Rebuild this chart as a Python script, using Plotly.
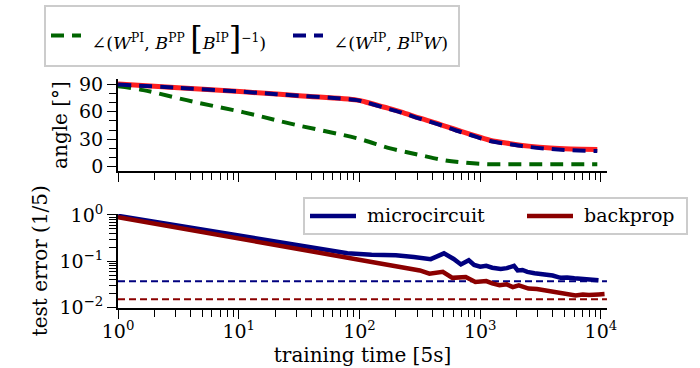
import plotly.graph_objects as go

# ---------------- top panel: angles ----------------
angle_time_ip = [1, 3.16, 11, 31.6, 95.5, 112, 158, 219, 316, 468, 631, 832, 1202, 1778, 2512, 3802, 5623, 9333]
angle_ip_dash = [90, 86.3, 81.9, 77.6, 72.8, 70.5, 64.8, 59.4, 52.5, 45.5, 39.5, 34.5, 27.9, 24.3, 21.5, 19.2, 17.8, 17.0]
angle_ip_red = [90.5, 86.5, 82.0, 77.6, 72.8, 70.8, 65.3, 60.0, 53.0, 46.0, 40.3, 35.3, 28.8, 25.0, 22.3, 20.2, 19.2, 18.7]

angle_time_pi = [1, 1.62, 4.21, 11, 28.5, 95.5, 180, 316, 501, 686, 1072, 1995, 3981, 9333]
angle_pi = [88, 83.8, 71, 59.4, 46.2, 30.9, 19.9, 12.6, 6.9, 4.6, 2.6, 2.4, 2.4, 2.4]

# ---------------- bottom panel: test error ----------------
mc_time = [1, 3.16, 10, 31.6, 79.4, 126, 200, 282, 389, 501, 603, 692, 804, 891, 1000, 1122, 1259,
           1479, 1660, 1905, 2042, 2239, 2455, 2818, 3162, 3548, 3981, 4624, 5248, 6026, 6761, 7586, 8511, 9550]
mc_err = [0.955, 0.589, 0.355, 0.219, 0.148, 0.138, 0.135, 0.123, 0.111, 0.148, 0.112, 0.0851, 0.105, 0.0832,
          0.0759, 0.0794, 0.0724, 0.0676, 0.0708, 0.0794, 0.0631, 0.0646, 0.0589, 0.0550, 0.0537, 0.0501,
          0.0490, 0.0437, 0.0447, 0.0427, 0.0417, 0.0427, 0.0407, 0.0389]

bp_time = [1, 3.16, 10, 31.6, 95.5, 200, 316, 380, 490, 589, 759, 912, 1122, 1259, 1445, 1660, 1862, 2089,
           2512, 2951, 3467, 3981, 4467, 5248, 6166, 7079, 7943, 9550, 10715]
bp_err = [0.891, 0.525, 0.309, 0.178, 0.105, 0.0759, 0.0631, 0.0537, 0.0589, 0.0437, 0.0457, 0.0355, 0.0372,
          0.0331, 0.0302, 0.0316, 0.0275, 0.0302, 0.0257, 0.0251, 0.0234, 0.0219, 0.0200, 0.0195, 0.0182,
          0.0191, 0.0186, 0.0191, 0.0195]

mc_floor = 0.0367
bp_floor = 0.0151

x_major = [1, 10, 100, 1000, 10000]
x_major_text = ["10<sup>0</sup>", "10<sup>1</sup>", "10<sup>2</sup>", "10<sup>3</sup>", "10<sup>4</sup>"]
angle_ticks = [0, 30, 60, 90]
angle_minor = [10, 20, 40, 50, 70, 80]
err_major = [0.01, 0.1, 1]
err_major_text = ["10<sup>\u22122</sup>", "10<sup>\u22121</sup>", "10<sup>0</sup>"]

NAVY = "#00007f"
GREEN = "#006400"
RED = "#ff2020"
DRED = "#8b0000"
FONT = "DejaVu Serif"

x_minor = [m * 10 ** k for k in range(4) for m in range(2, 10)]
err_minor = [m * 10 ** k for k in (-2, -1) for m in range(2, 10)]

SL = '<span style="font-size:17.5px">'
S19 = '<span style="font-size:19px">'
BIG = '<span style="font-size:32px">'
name_pi = (SL + "\u00a0\u2220(<i>W</i><sup>PI</sup>, <i>B</i><sup>PP</sup> </span>" + BIG + "[</span>"
           + SL + "<i>B</i><sup>IP</sup></span>" + BIG + "]</span>" + SL + "<sup>\u22121</sup>)</span>")
name_ip = SL + "\u00a0\u2220(<i>W</i><sup>IP</sup>, <i>B</i><sup>IP</sup><i>W</i>)</span>"
name_mc = S19 + "\u00a0microcircuit</span>"
name_bp = S19 + "\u00a0backprop</span>"

fig = go.Figure()

fig.add_trace(go.Scatter(x=angle_time_ip, y=angle_ip_red, mode="lines", line=dict(color=RED, width=5, shape="spline"),
                         showlegend=False, xaxis="x", yaxis="y"))
fig.add_trace(go.Scatter(x=angle_time_pi, y=angle_pi, mode="lines",
                         line=dict(color=GREEN, width=4, dash="13px,8px", shape="spline"),
                         name=name_pi, legend="legend", legendwidth=197, xaxis="x", yaxis="y"))
fig.add_trace(go.Scatter(x=angle_time_ip, y=angle_ip_dash, mode="lines",
                         line=dict(color=NAVY, width=4, dash="13px,8px", shape="spline"),
                         name=name_ip, legend="legend", legendwidth=125, xaxis="x", yaxis="y"))

fig.add_trace(go.Scatter(x=mc_time, y=mc_err, mode="lines", line=dict(color=NAVY, width=4.5),
                         name=name_mc, legend="legend2", legendwidth=156, xaxis="x2", yaxis="y2"))
fig.add_trace(go.Scatter(x=bp_time, y=bp_err, mode="lines", line=dict(color=DRED, width=4.5),
                         name=name_bp, legend="legend2", legendwidth=103, xaxis="x2", yaxis="y2"))

for v, c in ((mc_floor, NAVY), (bp_floor, DRED)):
    fig.add_shape(type="line", xref="x2 domain", x0=0, x1=1, yref="y2", y0=v, y1=v,
                  line=dict(color=c, width=2, dash="7px,4px"), layer="below")

dom_x = [0.1686, 0.8671]
TICKFONT = dict(family=FONT, size=19, color="black")
common_x = dict(type="log", range=[0, 4.05], domain=dom_x, showline=True, linecolor="black", linewidth=2,
                ticks="outside", ticklen=9, tickwidth=1.3, tickcolor="black", showgrid=False, zeroline=False,
                tickmode="array", tickvals=x_major, automargin=False, tickfont=TICKFONT, ticklabelstandoff=-3,
                minor=dict(tickmode="array", tickvals=x_minor, ticks="outside", ticklen=7, tickwidth=1.2,
                           tickcolor="black", showgrid=False))
common_y = dict(showline=True, linecolor="black", linewidth=2, ticks="outside", ticklen=9, tickwidth=1.3,
                tickcolor="black", showgrid=False, zeroline=False, tickmode="array", automargin=False,
                tickfont=TICKFONT, ticklabelstandoff=0)

fig.update_layout(
    width=700, height=368,
    margin=dict(l=0, r=0, t=0, b=0, autoexpand=False),
    paper_bgcolor="white", plot_bgcolor="white",
    font=dict(family=FONT, size=19, color="black"),
    xaxis=dict(**common_x, anchor="y", showticklabels=False),
    yaxis=dict(**common_y, domain=[0.5353, 0.7853], range=[-5, 96], anchor="x", tickvals=angle_ticks,
               minor=dict(tickmode="array", tickvals=angle_minor, ticks="outside", ticklen=7, tickwidth=1.2,
                          tickcolor="black"),
               title=dict(text="angle [\u00b0]", standoff=6, font=dict(size=20))),
    xaxis2=dict(**common_x, anchor="y2", ticktext=x_major_text,
                title=dict(text="training time [5s]", standoff=7, font=dict(size=20))),
    yaxis2=dict(**common_y, domain=[0.1644, 0.4185], type="log", range=[-2, 0.02], anchor="x2",
                tickvals=err_major, ticktext=err_major_text,
                minor=dict(tickmode="array", tickvals=err_minor, ticks="outside", ticklen=7, tickwidth=1.2,
                           tickcolor="black"),
                title=dict(text="test error (1/5)", standoff=6, font=dict(size=20))),
    legend=dict(x=44 / 700, y=1 - 5 / 368, xanchor="left", yanchor="top", orientation="h", bgcolor="white",
                bordercolor="#cccccc", borderwidth=2, itemwidth=30, font=dict(family=FONT, size=34)),
    legend2=dict(x=303 / 700, y=1 - 197 / 368, xanchor="left", yanchor="top", orientation="h", bgcolor="white",
                 bordercolor="#cccccc", borderwidth=2, itemwidth=46, font=dict(family=FONT, size=16)),
)

fig.write_html("out.html", config={"displayModeBar": False},
               post_script="document.body.style.margin='0px';")
